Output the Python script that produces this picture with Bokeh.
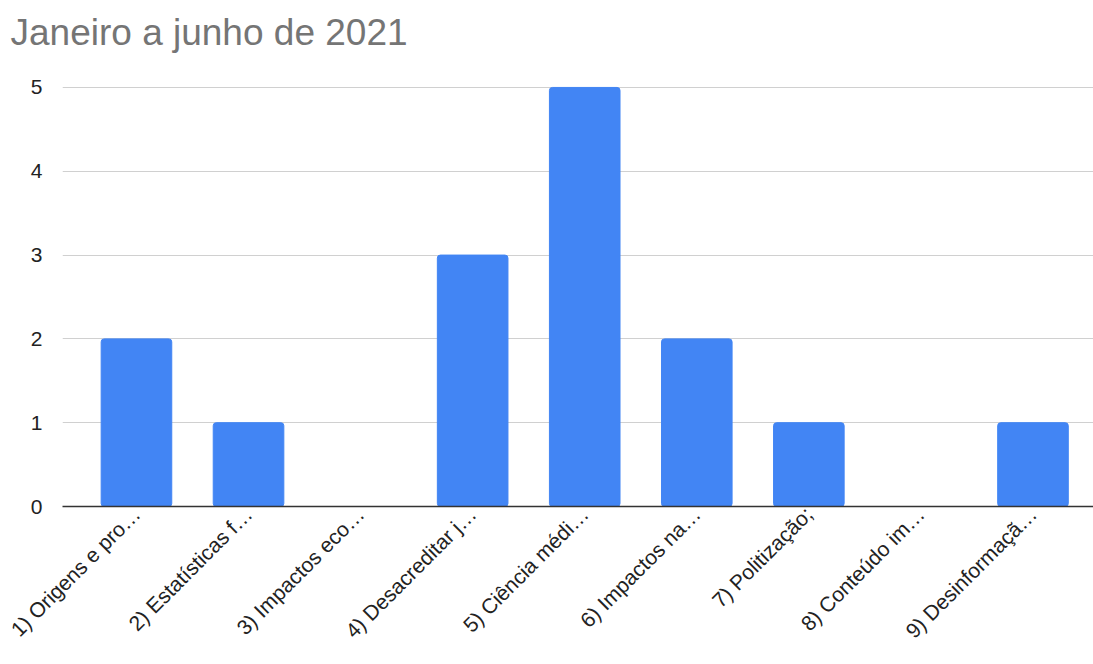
from bokeh.plotting import figure
from bokeh.models import Range1d, FixedTicker, Title
from bokeh.embed import file_html
from bokeh.resources import INLINE
import math

categories = ["1) Origens e pro…", "2) Estatísticas f…", "3) Impactos eco…",
              "4) Desacreditar j…", "5) Ciência médi…", "6) Impactos na…",
              "7) Politização;", "8) Conteúdo im…", "9) Desinformaçã…"]
values = [2, 1, 0, 3, 5, 2, 1, 0, 1]
y_ticks = [0, 1, 2, 3, 4, 5]
title_text = "Janeiro a junho de 2021"

xs = list(range(1, len(categories) + 1))

p = figure(width=1093, height=664, output_backend="svg", toolbar_location=None,
           x_range=Range1d(0.34, len(categories) + 0.54), y_range=Range1d(0, 5.047),
           title=title_text, min_border_left=62, min_border_right=0, min_border_top=83,
           min_border_bottom=158)
p.title.text_font = "Liberation Sans"
p.title.text_font_size = "37px"
p.title.text_font_style = "normal"
p.title.text_color = "#757575"
p.title.offset = -52
p.title.standoff = 18

spacer = Title(text=" ", text_font_size="14px", standoff=4)
p.add_layout(spacer, "above")

p.vbar(x=xs, top=values, width=0.63, color="#4285F4", border_radius=3)

p.outline_line_color = None
p.xgrid.grid_line_color = None
p.ygrid.grid_line_color = "#d0d0d0"
p.ygrid.ticker = FixedTicker(ticks=y_ticks)

p.yaxis.ticker = FixedTicker(ticks=y_ticks)
p.yaxis.axis_line_color = None
p.yaxis.major_tick_line_color = None
p.yaxis.minor_tick_line_color = None
p.yaxis.major_label_text_font = "Liberation Sans"
p.yaxis.major_label_text_font_size = "21px"
p.yaxis.major_label_text_color = "#222222"
p.yaxis.major_label_standoff = 14

p.xaxis.ticker = FixedTicker(ticks=xs)
p.xaxis.major_label_overrides = {x: c for x, c in zip(xs, categories)}
p.xaxis.major_label_orientation = math.pi / 4
p.xaxis.axis_line_color = "#333333"
p.xaxis.axis_line_width = 1.5
p.xaxis.major_tick_line_color = None
p.xaxis.minor_tick_line_color = None
p.xaxis.major_tick_out = 0
p.xaxis.major_label_standoff = 4
p.xaxis.major_label_text_font = "Liberation Sans"
p.xaxis.major_label_text_font_size = "21px"
p.xaxis.major_label_text_color = "#222222"

open("out.html", "w").write(file_html(p, INLINE))
